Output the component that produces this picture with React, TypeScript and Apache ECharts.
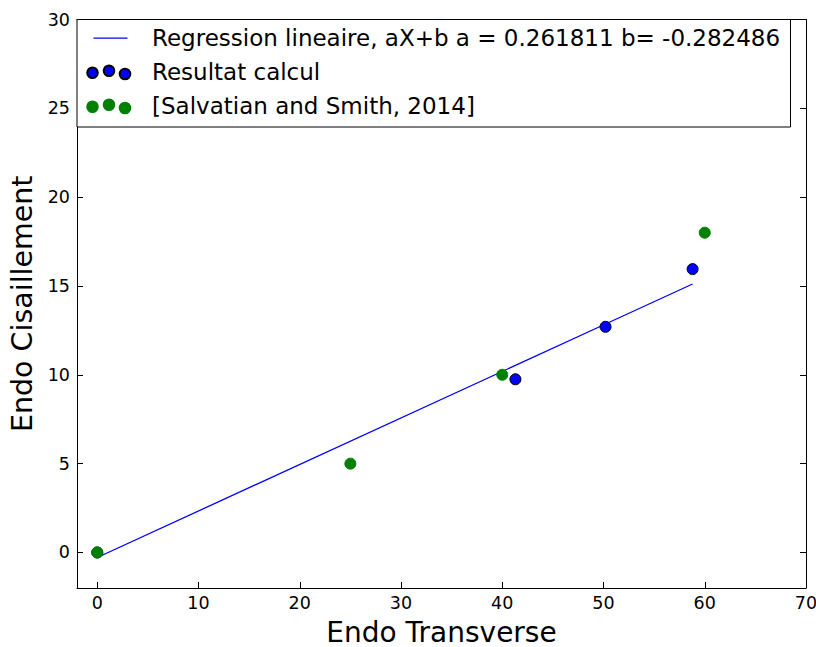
import React, { useEffect, useRef } from "react";
import * as echarts from "echarts";

// ---- data ----
const calcX = [0, 41.3, 50.2, 58.8];
const calcY = [0, 9.75, 12.7, 15.95];
const refX = [0, 25, 40, 60];
const refY = [0, 5, 10, 18];
const regA = 0.261811;
const regB = -0.282486;

const regName = "Regression lineaire, aX+b a = 0.261811 b= -0.282486";
const calcName = "Resultat calcul";
const refName = "[Salvatian and Smith, 2014]";

const xTitle = "Endo Transverse";
const yTitle = "Endo Cisaillement";

const FONT = "DejaVu Sans";

// legend icons: anchors "M0 0" and "M60 15" fix the icon box
const dotsIcon =
  "path://M0 0 M60 15 " +
  "M0.2 8.2 A5.3 5.3 0 1 0 10.8 8.2 A5.3 5.3 0 1 0 0.2 8.2 Z " +
  "M16.7 6.2 A5.3 5.3 0 1 0 27.3 6.2 A5.3 5.3 0 1 0 16.7 6.2 Z " +
  "M32.7 9.5 A5.3 5.3 0 1 0 43.3 9.5 A5.3 5.3 0 1 0 32.7 9.5 Z";
const lineIcon = "path://M0 0 M60 15 M6.5 6.9 L40.5 6.9 L40.5 8.2 L6.5 8.2 Z";

export default function App() {
  const ref = useRef<HTMLDivElement>(null);

  useEffect(() => {
    if (!ref.current) return;
    const chart = echarts.init(ref.current, undefined, { renderer: "svg" });

    const axisLine = { onZero: false, lineStyle: { color: "#000", width: 1 } };
    const axisTick = { inside: true, length: 6, lineStyle: { color: "#000", width: 1 } };
    const labelStyle = { fontFamily: FONT, fontSize: 17.5, color: "#000" };

    const option: any = {
      animation: false,
      backgroundColor: "#fff",
      grid: {
        left: 77,
        right: 10,
        top: 19.5,
        bottom: 59,
        containLabel: false,
        outerBoundsMode: "none",
      },
      xAxis: [
        {
          type: "value",
          position: "bottom",
          min: -2,
          max: 70,
          minInterval: 10,
          maxInterval: 10,
          axisLine,
          axisTick,
          splitLine: { show: false },
          axisLabel: {
            ...labelStyle,
            margin: 6,
            formatter: (v: number) => (Math.abs(v % 10) < 1e-9 ? String(v) : ""),
          },
          name: xTitle,
          nameLocation: "middle",
          nameGap: 30,
          nameTextStyle: { fontFamily: FONT, fontSize: 28, lineHeight: 28, color: "#000" },
        },
        {
          type: "value",
          position: "top",
          min: -2,
          max: 70,
          minInterval: 10,
          maxInterval: 10,
          axisLine,
          axisTick,
          splitLine: { show: false },
          axisLabel: { show: false },
        },
      ],
      yAxis: [
        {
          type: "value",
          position: "left",
          min: -2,
          max: 30,
          minInterval: 5,
          maxInterval: 5,
          axisLine,
          axisTick,
          splitLine: { show: false },
          axisLabel: {
            ...labelStyle,
            margin: 7,
            formatter: (v: number) => (Math.abs(v % 5) < 1e-9 ? String(v) : ""),
          },
          name: yTitle,
          nameLocation: "middle",
          nameGap: 39,
          nameTextStyle: { fontFamily: FONT, fontSize: 28.5, lineHeight: 28.5, color: "#000" },
        },
        {
          type: "value",
          position: "right",
          min: -2,
          max: 30,
          minInterval: 5,
          maxInterval: 5,
          axisLine,
          axisTick,
          splitLine: { show: false },
          axisLabel: { show: false },
        },
      ],
      legend: {
        orient: "vertical",
        left: 86,
        top: 26.5,
        padding: 0,
        itemWidth: 60,
        itemHeight: 15,
        itemGap: 11,
        selectedMode: false,
        textStyle: { fontFamily: FONT, fontSize: 23, color: "#000" },
        data: [
          { name: regName, icon: lineIcon },
          { name: calcName, icon: dotsIcon },
          { name: refName, icon: dotsIcon },
        ],
      },
      graphic: [
        {
          type: "rect",
          z: 3,
          shape: { x: 77, y: 19.5, width: 713.5, height: 107.5 },
          style: { fill: "#fff", stroke: "#000", lineWidth: 1 },
        },
      ],
      series: [
        {
          name: regName,
          type: "line",
          xAxisIndex: 0,
          yAxisIndex: 0,
          data: calcX.map((x) => [x, regA * x + regB]),
          symbol: "none",
          color: "#0000ff",
          lineStyle: { color: "#0000ff", width: 1.3 },
          z: 2,
        },
        {
          name: calcName,
          type: "scatter",
          xAxisIndex: 0,
          yAxisIndex: 0,
          data: calcX.map((x, i) => [x, calcY[i]]),
          symbolSize: 11,
          itemStyle: { color: "#0000ff", borderColor: "#000", borderWidth: 1, opacity: 1 },
          z: 3,
        },
        {
          name: refName,
          type: "scatter",
          xAxisIndex: 0,
          yAxisIndex: 0,
          data: refX.map((x, i) => [x, refY[i]]),
          symbolSize: 11,
          itemStyle: { color: "#008000", borderColor: "#008000", borderWidth: 1, opacity: 1 },
          z: 4,
        },
      ],
    };

    chart.setOption(option);
    return () => chart.dispose();
  }, []);

  return (
    <div
      ref={ref}
      style={{ position: "fixed", left: 0, top: 0, width: 816, height: 647 }}
    />
  );
}
